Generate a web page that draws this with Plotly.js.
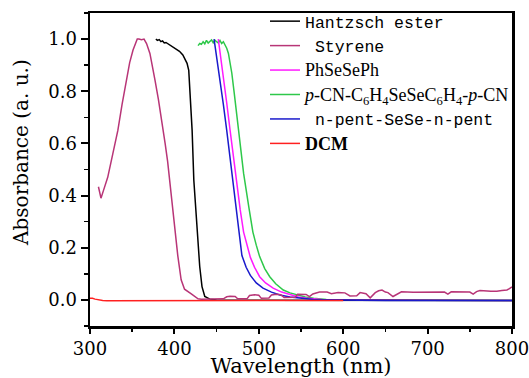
<!DOCTYPE html>
<html>
<head>
<meta charset="utf-8">
<script src="https://cdn.plot.ly/plotly-3.0.1.min.js"></script>
<style>html,body{margin:0;padding:0;background:#fff;}#chart{width:529px;height:378px;}</style>
</head>
<body>
<div id="chart"></div>
<script>
// Hantzsch ester
const heX = [378,380,382,384,386,388,390,392,395,398,402,406,410,413,415,417,419,421,423,425,427,430,432.7,436,442,450,500,600,700,800];
const heY = [1.0,0.995,0.998,0.99,0.993,0.985,0.987,0.983,0.978,0.972,0.964,0.953,0.939,0.92,0.907,0.88,0.78,0.65,0.46,0.36,0.256,0.128,0.051,0.013,0.003,0.0,-0.001,-0.002,-0.002,-0.002];

// Styrene
const stX = [310,313,316,321,327,333,338,343,347,351,354,356,358,361,364,367,371,374,377,381,385,389,392,396,400,404,408,412,420,428,432,440,450,458,462,466,472,475,486,489,495,500,503,512,515,521,526,530,543,546,556,560,564,572,581,586,594,602,608,616,620,627,632,638,642,646,650,653,659,664,669,683,700,720,724,728,750,754,758,762,775,782,788,794,797,800];
const stY = [0.434,0.39,0.42,0.47,0.56,0.65,0.75,0.843,0.91,0.958,0.985,1.0,1.0,0.998,1.0,0.983,0.945,0.90,0.843,0.77,0.69,0.60,0.53,0.41,0.29,0.17,0.077,0.041,0.023,0.004,0.003,0.004,0.003,0.004,0.012,0.014,0.013,0.004,0.004,0.017,0.02,0.018,0.006,0.007,0.019,0.022,0.02,0.009,0.01,0.022,0.021,0.013,0.023,0.03,0.03,0.024,0.028,0.027,0.015,0.016,0.028,0.024,0.008,0.028,0.035,0.038,0.03,0.028,0.013,0.022,0.031,0.029,0.03,0.03,0.022,0.031,0.03,0.022,0.032,0.036,0.033,0.033,0.036,0.038,0.043,0.05];

// PhSeSePh
const phX = [452,455,458,462,466,470,474,478,482,486,490,495,501,508,517,527,537,547,557,575,600,800];
const phY = [1.0,0.93,0.856,0.755,0.65,0.545,0.447,0.345,0.26,0.21,0.163,0.125,0.089,0.065,0.045,0.03,0.019,0.011,0.006,0.002,0.0,-0.002];

// p-CN-C6H4SeSeC6H4-p-CN
const cnX = [428,430,432,434,436,438,440,442,444,446,448,450,452,454,456,458,460,462,464,466,468,471,474,478,482,488,493,497,501,507,513,520,529,537,545,555,565,580,600,700,800];
const cnY = [0.975,0.983,0.98,0.99,0.982,0.995,0.985,0.99,0.997,0.986,0.996,0.99,0.985,0.995,0.983,0.99,0.978,0.965,0.945,0.91,0.87,0.79,0.70,0.59,0.485,0.36,0.26,0.21,0.166,0.12,0.089,0.062,0.038,0.027,0.019,0.011,0.006,0.002,0.0,-0.002,-0.002];

// n-pent-SeSe-n-pent
const npX = [447,450,454,458,462,466,470,473,476,480,485,490,497,505,515,525,537,549,565,590,650,800];
const npY = [1.0,0.935,0.85,0.75,0.65,0.545,0.43,0.35,0.27,0.17,0.125,0.094,0.065,0.045,0.03,0.019,0.011,0.006,0.002,0.0,-0.002,-0.002];

// DCM
const dcX = [300,303,306,310,315,320,350,400,450,500,550,600];
const dcY = [0.006,0.006,0.003,0.0,-0.002,-0.003,-0.003,-0.003,-0.002,-0.002,-0.002,-0.002];

const xTitle = 'Wavelength (nm)';
const yTitle = 'Absorbance (a. u.)';

const mono = 'Liberation Mono';
const serif = 'DejaVu Serif';
const names = {
  he: 'Hantzsch ester',
  st: ' Styrene',
  ph: '<span style="font-family:Liberation Serif;font-size:18px">PhSeSePh</span>',
  cn: '<span style="font-family:Liberation Serif;font-size:18px"><i>p</i>-CN-C<sub>6</sub>H<sub>4</sub>SeSeC<sub>6</sub>H<sub>4</sub>-<i>p</i>-CN</span>',
  np: ' n-pent-SeSe-n-pent',
  dc: '<span style="font-family:Liberation Serif;font-size:18px"><b>DCM</b></span>'
};

const lw = 1.5;
const traces = [
  {x: cnX, y: cnY, name: names.cn, legendrank: 4, line: {color: '#2ec84a', width: lw}},
  {x: phX, y: phY, name: names.ph, legendrank: 3, line: {color: '#ff1aff', width: lw}},
  {x: heX, y: heY, name: names.he, legendrank: 1, line: {color: '#000000', width: lw}},
  {x: npX, y: npY, name: names.np, legendrank: 5, line: {color: '#1a1acc', width: lw}},
  {x: dcX, y: dcY, name: names.dc, legendrank: 6, line: {color: '#ff2020', width: lw}},
  {x: stX, y: stY, name: names.st, legendrank: 2, line: {color: '#b83577', width: lw}}
].map(t => Object.assign({type: 'scatter', mode: 'lines'}, t));

const layout = {
  width: 529, height: 378,
  margin: {l: 90, r: 17, t: 13, b: 52, autoexpand: false},
  paper_bgcolor: '#fff', plot_bgcolor: '#fff',
  font: {family: serif, size: 18, color: '#000'},
  showlegend: true,
  legend: {x: 0.4147, y: 1.029, xanchor: 'left', yanchor: 'top',
           bgcolor: 'rgba(0,0,0,0)', font: {family: mono, size: 16.5, color: '#000'}, traceorder: 'normal'},
  xaxis: {
    range: [300, 800], dtick: 100, tick0: 300,
    showline: true, linewidth: 2.5, linecolor: '#000', mirror: true,
    ticks: 'outside', ticklen: 5, tickwidth: 2, tickcolor: '#000',
    minor: {dtick: 50, ticks: 'outside', ticklen: 3, tickwidth: 1.5, tickcolor: '#000'},
    showgrid: false, zeroline: false, ticklabeloverflow: 'allow',
    tickfont: {family: serif, size: 18},
    title: {text: xTitle, font: {family: serif, size: 21}, standoff: 10}
  },
  yaxis: {
    range: [-0.1, 1.1], dtick: 0.2, tick0: 0, tickformat: '.1f',
    showline: true, linewidth: 2.5, linecolor: '#000', mirror: true,
    ticks: 'outside', ticklen: 7, tickwidth: 2, tickcolor: '#000',
    minor: {dtick: 0.1, ticks: 'outside', ticklen: 4, tickwidth: 1.5, tickcolor: '#000'},
    showgrid: false, zeroline: false,
    tickfont: {family: serif, size: 18}
  },
  annotations: [{
    text: yTitle, xref: 'paper', yref: 'paper', x: -0.1635, y: 0.553,
    xanchor: 'center', yanchor: 'middle', textangle: -90, showarrow: false,
    font: {family: serif, size: 20, color: '#000'}
  }]
};

Plotly.newPlot('chart', traces, layout, {staticPlot: true, displayModeBar: false});
</script>
</body>
</html>
